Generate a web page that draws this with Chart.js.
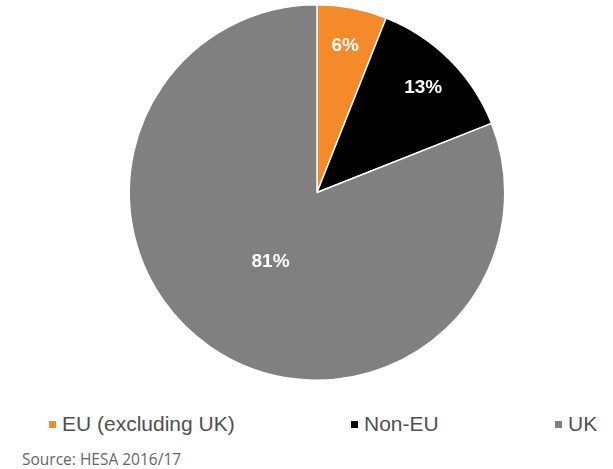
<!DOCTYPE html>
<html>
<head>
<meta charset="utf-8">
<script src="https://cdn.jsdelivr.net/npm/chart.js@4"></script>
<style>
  body { margin: 0; background: #fff; }
  #wrap { position: relative; width: 613px; height: 469px; }
  #pieBox { position: absolute; left: 0; top: 0; width: 613px; height: 390px; }
  .legend-item { position: absolute; top: 412px; height: 24px; display: flex; align-items: center;
    font-family: "Liberation Sans", Arial, sans-serif; font-size: 21px; color: #505050; white-space: nowrap; }
  .legend-item span.box { display: inline-block; width: 7px; height: 7px; margin-right: 6px; }
  #source { position: absolute; left: 22px; top: 448px; font-family: "Open Sans", sans-serif;
    font-size: 15.5px; color: #666; }
</style>
</head>
<body>
<div id="wrap">
  <div id="pieBox"><canvas id="pieChart"></canvas></div>
  <div id="legend"></div>
  <div id="source">Source: HESA 2016/17</div>
</div>
<script>
const categories = ["EU (excluding UK)", "Non-EU", "UK"];
const shares = [6, 13, 81];
const sliceColors = ["#f58a2b", "#000000", "#808080"];

// legend x positions (left edge of each swatch)
const legendLefts = [49, 351, 555];
// how far out along the radius each percentage label sits
const labelRadius = [0.80, 0.80, 0.44];

const legend = document.getElementById("legend");
categories.forEach((name, i) => {
  const item = document.createElement("div");
  item.className = "legend-item";
  item.style.left = legendLefts[i] + "px";
  item.innerHTML = `<span class="box" style="background:${sliceColors[i]}"></span>${name}`;
  legend.appendChild(item);
});

const sliceLabels = {
  id: "sliceLabels",
  afterDatasetsDraw(chart) {
    const ctx = chart.ctx;
    const meta = chart.getDatasetMeta(0);
    ctx.save();
    ctx.font = 'bold 19px "Liberation Sans", Arial, sans-serif';
    ctx.fillStyle = "#ffffff";
    ctx.textAlign = "center";
    ctx.textBaseline = "middle";
    meta.data.forEach((arc, i) => {
      const p = arc.getProps(["x", "y", "startAngle", "endAngle", "outerRadius"], true);
      const mid = (p.startAngle + p.endAngle) / 2;
      const r = p.outerRadius * labelRadius[i];
      ctx.fillText(shares[i] + "%", p.x + Math.cos(mid) * r, p.y + Math.sin(mid) * r + 1);
    });
    ctx.restore();
  }
};

const ctx = document.getElementById("pieChart").getContext("2d");
new Chart(ctx, {
  type: "pie",
  data: {
    labels: categories,
    datasets: [{
      data: shares,
      backgroundColor: sliceColors,
      borderColor: "#ffffff",
      borderWidth: 1.5
    }]
  },
  options: {
    responsive: true,
    maintainAspectRatio: false,
    animation: false,
    layout: { padding: { top: 4, bottom: 9, left: 21, right: 0 } },
    plugins: {
      legend: { display: false },
      tooltip: { enabled: false }
    }
  },
  plugins: [sliceLabels]
});
</script>
</body>
</html>
